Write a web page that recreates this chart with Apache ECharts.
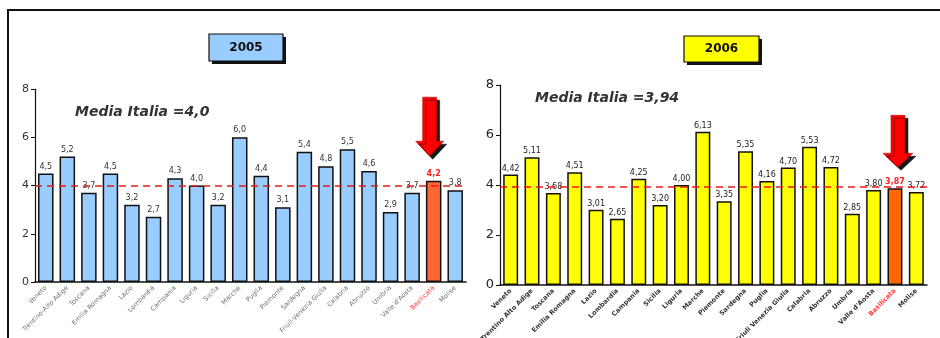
<!DOCTYPE html>
<html>
<head>
<meta charset="utf-8">
<title>Indice per regione 2005 - 2006</title>
<script src="https://cdn.jsdelivr.net/npm/echarts@6/dist/echarts.min.js"></script>
<style>
  html, body { margin: 0; padding: 0; background: #ffffff; }
  #chart { width: 940px; height: 338px; }
</style>
</head>
<body>
<div id="chart"></div>
<script>
// Regions, 2005 panel order
const regions2005 = ['Veneto', 'Trentino-Alto Adige', 'Toscana', 'Emilia Romagna', 'Lazio',
  'Lombardia', 'Campania', 'Liguria', 'Sicilia', 'Marche', 'Puglia', 'Piemonte', 'Sardegna',
  'Friuli-Venezia Giulia', 'Calabria', 'Abruzzo', 'Umbria', "Valle d'Aosta", 'Basilicata', 'Molise'];
const values2005 = [4.5, 5.2, 3.7, 4.5, 3.2, 2.7, 4.3, 4.0, 3.2, 6.0, 4.4, 3.1, 5.4, 4.8, 5.5, 4.6, 2.9, 3.7, 4.2, 3.8];
const mean2005 = 4.0;

// Regions, 2006 panel order
const regions2006 = ['Veneto', 'Trentino Alto Adige', 'Toscana', 'Emilia Romagna', 'Lazio',
  'Lombardia', 'Campania', 'Sicilia', 'Liguria', 'Marche', 'Piemonte', 'Sardegna', 'Puglia',
  'Friuli Venezia Giulia', 'Calabria', 'Abruzzo', 'Umbria', "Valle d'Aosta", 'Basilicata', 'Molise'];
const values2006 = [4.42, 5.11, 3.68, 4.51, 3.01, 2.65, 4.25, 3.20, 4.00, 6.13, 3.35, 5.35, 4.16, 4.70, 5.53, 4.72, 2.85, 3.80, 3.87, 3.72];
const mean2006 = 3.94;

const yTicks = [0, 2, 4, 6, 8];
const highlight = 'Basilicata';

const FONT = '"DejaVu Sans", Verdana, sans-serif';

const fmt = (v, d) => v.toFixed(d).replace('.', ',');

function barData(cats, vals, base, hi, dec, labelColor) {
  return vals.map((v, i) => {
    const isHi = cats[i] === highlight;
    return {
      value: v,
      itemStyle: { color: isHi ? hi : base },
      label: {
        color: isHi ? '#ff2020' : labelColor,
        fontWeight: isHi ? 'bold' : 'normal',
        formatter: () => fmt(v, dec)
      }
    };
  });
}

// Down arrow pointing at the highlighted region
function arrow(path, size, offset) {
  return {
    symbol: path,
    symbolSize: size,
    symbolOffset: offset,
    silent: true,
    label: { show: false },
    itemStyle: {
      color: '#ff0000',
      borderColor: '#b00000',
      borderWidth: 0.5,
      shadowColor: 'rgba(0,0,0,0.9)',
      shadowBlur: 0,
      shadowOffsetX: 3,
      shadowOffsetY: 3
    }
  };
}

function meanLine(v) {
  return {
    silent: true,
    symbol: 'none',
    label: { show: false },
    lineStyle: { color: '#e81818', type: [7, 5], width: 1.6 },
    data: [{ yAxis: v }]
  };
}

function yAxis(gi, fs, color) {
  return {
    type: 'value', gridIndex: gi, min: yTicks[0], max: yTicks[yTicks.length - 1], interval: 2,
    splitLine: { show: false },
    axisLine: { show: true, lineStyle: { color: '#111', width: 1.2 } },
    axisTick: { show: true, length: 4, lineStyle: { color: '#111' } },
    axisLabel: { fontFamily: FONT, fontSize: fs, color: color, margin: 6 }
  };
}

function xAxis(gi, cats, color, weight) {
  return {
    type: 'category', gridIndex: gi, data: cats,
    axisLine: { lineStyle: { color: '#111', width: 1.5 } },
    axisTick: { show: false },
    axisLabel: {
      interval: 0, rotate: 45, fontFamily: FONT, fontSize: 6.5, margin: 5,
      fontWeight: weight,
      color: (val) => val === highlight ? '#ff3a3a' : color
    }
  };
}

function titleBox(x, y, w, h, fill, text) {
  return {
    type: 'group', x: x, y: y, silent: true,
    children: [
      { type: 'rect', shape: { x: 3, y: 3, width: w, height: h }, style: { fill: '#111' } },
      { type: 'rect', shape: { x: 0, y: 0, width: w, height: h }, style: { fill: fill, stroke: '#111', lineWidth: 1.2 } },
      { type: 'text', x: w / 2, y: h / 2, style: { text: text, fill: '#111', font: 'bold 12px ' + FONT, align: 'center', verticalAlign: 'middle' } }
    ]
  };
}

const chart = echarts.init(document.getElementById('chart'), null, { renderer: 'canvas' });

chart.setOption({
  animation: false,
  backgroundColor: '#ffffff',
  grid: [
    { left: 35, right: 474, top: 89, bottom: 56, outerBoundsMode: 'none', containLabel: false },
    { left: 500, right: 13, top: 85, bottom: 53, outerBoundsMode: 'none', containLabel: false }
  ],
  xAxis: [xAxis(0, regions2005, '#707070', 'normal'), xAxis(1, regions2006, '#333', 'bold')],
  yAxis: [yAxis(0, 11, '#333'), yAxis(1, 13, '#222')],
  graphic: [
    // outer frame
    { type: 'rect', silent: true, z: -1, shape: { x: 8, y: 10, width: 1000, height: 400 },
      style: { fill: 'none', stroke: '#111', lineWidth: 2 } },
    titleBox(209, 34, 74, 27, '#99ccff', '2005'),
    titleBox(684, 36, 75, 26, '#ffff00', '2006'),
    { type: 'text', x: 75, y: 112, silent: true,
      style: { text: 'Media Italia =' + fmt(mean2005, 1), fill: '#333', font: 'italic bold 14px ' + FONT, verticalAlign: 'middle' } },
    { type: 'text', x: 535, y: 98, silent: true,
      style: { text: 'Media Italia =' + fmt(mean2006, 2), fill: '#333', font: 'italic bold 14px ' + FONT, verticalAlign: 'middle' } }
  ],
  series: [
    {
      type: 'bar', xAxisIndex: 0, yAxisIndex: 0, barCategoryGap: '28%',
      data: barData(regions2005, values2005, '#99ccff', '#ff6633', 1, '#333'),
      itemStyle: { borderColor: '#111', borderWidth: 1.5 },
      label: { show: true, position: 'top', distance: 3, fontFamily: FONT, fontSize: 8 },
      markLine: meanLine(mean2005),
      markPoint: {
        data: [Object.assign({ coord: [highlight, values2005[regions2005.indexOf(highlight)]] },
          arrow('path://M7,0 L21,0 L21,44 L28,44 L14,59 L0,44 L7,44 Z', [28, 59], [-4, -54]))]
      }
    },
    {
      type: 'bar', xAxisIndex: 1, yAxisIndex: 1, barCategoryGap: '30%',
      data: barData(regions2006, values2006, '#ffff00', '#ff6600', 2, '#222'),
      itemStyle: { borderColor: '#111', borderWidth: 1.5 },
      label: { show: true, position: 'top', distance: 2, fontFamily: FONT, fontSize: 8 },
      markLine: meanLine(mean2006),
      markPoint: {
        data: [Object.assign({ coord: [highlight, values2006[regions2006.indexOf(highlight)]] },
          arrow('path://M8,0 L22,0 L22,38 L30,38 L15,52 L0,38 L8,38 Z', [30, 52], [3, -47]))]
      }
    }
  ]
});
</script>
</body>
</html>
